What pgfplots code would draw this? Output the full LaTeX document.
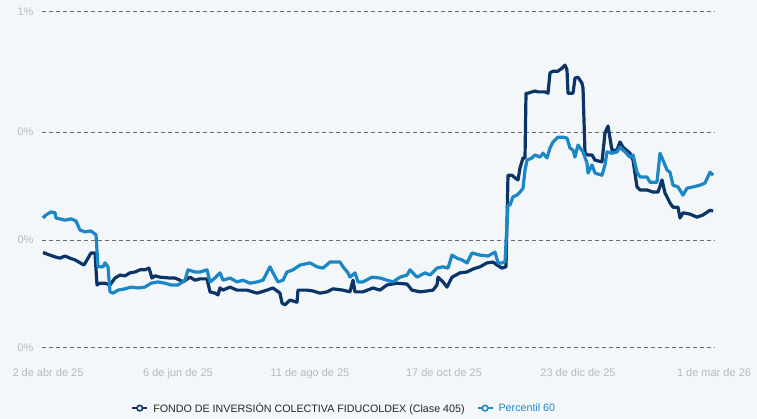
\documentclass[border=0pt]{standalone}
\usepackage{pgfplots}
\pgfplotsset{compat=1.18}
\usepackage{fontspec}
\setmainfont{Liberation Sans}
\definecolor{bg}{HTML}{F4F7FA}
\definecolor{navy}{HTML}{0B3566}
\definecolor{lblue}{HTML}{1B87C6}
\definecolor{tickgray}{HTML}{B5BABF}
\definecolor{gridgray}{HTML}{6A6A6A}
\begin{document}
\begin{tikzpicture}[x=1pt,y=1pt]
\fill[bg] (0,0) rectangle (757,419);
\begin{axis}[
  at={(42pt,71pt)}, anchor=south west,
  scale only axis, width=673pt, height=336pt,
  xmin=-3, xmax=333.5, ymin=0, ymax=0.778,
  axis line style={draw=none}, tick style={draw=none},
  ytick={0,0.25,0.5,0.778}, yticklabels={0\%,0\%,0\%,1\%},
  xtick={0,65,131,198,265,333},
  xticklabels={2 de abr de 25,6 de jun de 25,11 de ago de 25,17 de oct de 25,23 de dic de 25,1 de mar de 26},
  ymajorgrids, grid style={gridgray, line width=1pt, dash pattern=on 3.5pt off 3.5pt},
  ticklabel style={font=\fontsize{11}{13}\selectfont, text=tickgray},
  yticklabel style={xshift=-5pt},
  xticklabel style={yshift=-17pt},
  clip=false,
  legend columns=2,
  legend style={at={(0.449,-0.179)}, anchor=center, draw=none, fill=none,
    font=\fontsize{10.7}{12}\selectfont,
    /tikz/every odd column/.append style={column sep=3pt}},
  legend image code/.code={\draw[#1, line width=2pt] (0pt,0pt) -- (15pt,0pt);
     \draw[#1, fill=white, line width=1.6pt] (7.5pt,0pt) circle (2.8pt);},
]
\addplot[navy, line width=3.2pt, line join=round] coordinates {
(-2.5,0.221)(1,0.215)(3.5,0.211)(6,0.208)(8.5,0.213)(11,0.208)(13.5,0.204)(18,0.192)(21.5,0.220)(23.5,0.220)
(24.5,0.146)(26,0.150)(28.5,0.150)(31,0.146)(33.5,0.162)(36,0.169)(38.5,0.167)(41,0.174)(43.5,0.176)(46,0.181)
(48.5,0.181)(50.5,0.185)(52,0.162)(53.5,0.167)(56,0.164)(61,0.162)(63.5,0.162)(66,0.157)(67.5,0.153)(71,0.164)
(73.5,0.157)(76,0.160)(79.5,0.160)(81,0.130)(83.5,0.127)(85,0.123)(86,0.139)(87.5,0.134)(91,0.141)(94.5,0.134)
(99.5,0.134)(104.5,0.127)(109.5,0.134)(112.5,0.139)(116,0.127)(117,0.104)(118.5,0.100)(121,0.111)(124.5,0.106)
(125,0.134)(129.5,0.134)(132.5,0.132)(136,0.127)(139.5,0.130)(142.5,0.137)(147.5,0.134)(151,0.130)(152.5,0.157)
(153.5,0.130)(157.5,0.130)(162.5,0.139)(166,0.134)(169.5,0.146)(174.5,0.150)(179.5,0.148)(182,0.134)(186,0.130)
(189.5,0.132)(192.5,0.134)(194.5,0.146)(195,0.164)(197.5,0.153)(199.5,0.141)(202,0.164)(206,0.174)(209.5,0.176)
(212.5,0.183)(216,0.188)(219.5,0.197)(222.5,0.199)(224.5,0.192)(227,0.185)(229,0.188)(230,0.400)(232,0.400)
(233.5,0.394)(235,0.389)(236,0.417)(237.5,0.440)(238.5,0.440)(239,0.590)(240,0.590)(242,0.593)(243.5,0.595)
(245,0.593)(248.5,0.593)(250,0.590)(251,0.637)(252.5,0.641)(255,0.641)(257,0.648)(258.5,0.655)(259.5,0.644)
(260,0.590)(262.5,0.590)(263.5,0.625)(265,0.627)(267,0.613)(267.5,0.602)(268.5,0.451)(270,0.447)(272,0.447)
(273.5,0.435)(277,0.431)(278.5,0.498)(280,0.514)(282,0.458)(284.5,0.458)(286,0.477)(287.5,0.465)(291,0.451)
(292.5,0.435)(294.5,0.373)(296,0.366)(299.5,0.366)(302.5,0.361)(305,0.361)(307,0.389)(308.5,0.359)(311,0.336)
(312.5,0.326)(315,0.326)(316,0.301)(317.5,0.313)(321,0.310)(324.5,0.303)(327.5,0.308)(331,0.319)(332.5,0.317)
};
\addlegendentry{\textcolor{black!85}{FONDO DE INVERSIÓN COLECTIVA FIDUCOLDEX (Clase 405)}\hspace*{10pt}}
\addplot[lblue, line width=3.2pt, line join=round] coordinates {
(-2.5,0.301)(-1,0.308)(1.5,0.315)(3.5,0.313)(4,0.301)(8.5,0.296)(11.5,0.299)(14,0.294)(16,0.273)(18.5,0.269)
(21.5,0.271)(24,0.262)(25,0.188)(27.5,0.188)(28.5,0.197)(30,0.188)(31,0.130)(32.5,0.127)(35,0.134)(38.5,0.137)
(41.5,0.141)(45,0.139)(48.5,0.141)(51.5,0.150)(55,0.153)(58.5,0.150)(61.5,0.146)(65,0.146)(68.5,0.157)(70,0.181)
(73.5,0.176)(76,0.176)(79.5,0.181)(81,0.153)(83.5,0.162)(86,0.174)(87.5,0.157)(91,0.162)(94.5,0.153)(97.5,0.157)
(101,0.150)(104.5,0.153)(107.5,0.157)(111,0.188)(112.5,0.174)(115,0.153)(117.5,0.157)(119.5,0.176)(122.5,0.181)
(126,0.192)(131,0.197)(134.5,0.188)(137.5,0.185)(141,0.199)(146,0.199)(147.5,0.188)(150,0.174)(151,0.164)
(153.5,0.174)(155,0.153)(157.5,0.153)(162,0.164)(166,0.162)(169.5,0.157)(172.5,0.153)(176,0.164)(179.5,0.169)
(181,0.181)(184.5,0.164)(188.5,0.174)(191,0.169)(194.5,0.185)(197.5,0.188)(200,0.185)(202,0.215)(204.5,0.208)
(207,0.204)(209.5,0.197)(212,0.220)(216,0.215)(220,0.213)(223.5,0.222)(225,0.197)(227,0.197)(228.5,0.199)
(230,0.331)(231,0.331)(232.5,0.350)(234.5,0.354)(236,0.361)(237.5,0.370)(238.5,0.412)(239.5,0.435)(242,0.440)
(243.5,0.447)(246,0.442)(247.5,0.451)(249.5,0.440)(251,0.463)(252.5,0.477)(255,0.488)(257.5,0.488)(259.5,0.486)
(261,0.463)(262.5,0.458)(263.5,0.442)(265,0.470)(267.5,0.454)(269.5,0.428)(270,0.405)(272,0.424)(273.5,0.405)
(277,0.400)(278.5,0.424)(279.5,0.454)(282,0.451)(284.5,0.454)(286,0.465)(288.5,0.454)(291,0.442)(292.5,0.447)
(294.5,0.407)(296,0.396)(299.5,0.396)(301,0.384)(304.5,0.384)(306,0.451)(307.5,0.435)(309.5,0.412)(311,0.407)
(312.5,0.377)(315,0.373)(317.5,0.354)(319.5,0.370)(322.5,0.373)(326,0.377)(328.5,0.382)(331,0.407)(332.5,0.400)
};
\addlegendentry{\textcolor{lblue}{Percentil 60}}
\end{axis}
\end{tikzpicture}
\end{document}
